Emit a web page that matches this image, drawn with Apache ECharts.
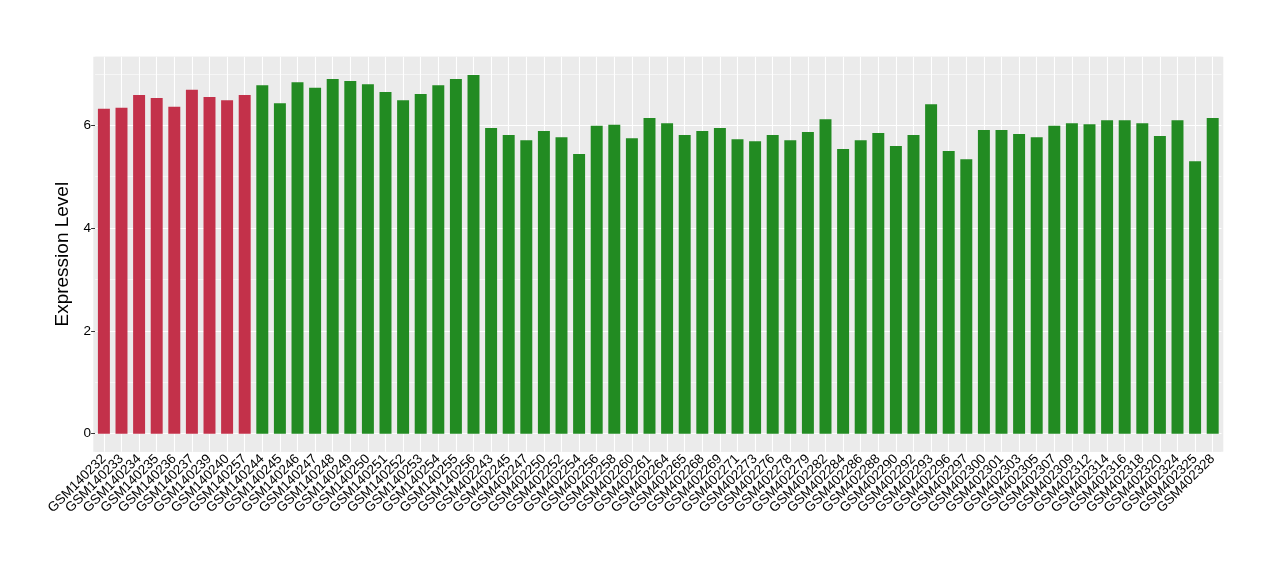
<!DOCTYPE html>
<html><head><meta charset="utf-8">
<script src="https://cdn.jsdelivr.net/npm/echarts@6/dist/echarts.min.js"></script>
<style>html,body{margin:0;padding:0;background:#fff}#c{width:1280px;height:580px}</style>
</head><body><div id="c"></div>
<script>
const samples = [
  'GSM140232','GSM140233','GSM140234','GSM140235','GSM140236','GSM140237','GSM140239','GSM140240','GSM140257',
  'GSM140244','GSM140245','GSM140246','GSM140247','GSM140248','GSM140249','GSM140250','GSM140251','GSM140252',
  'GSM140253','GSM140254','GSM140255','GSM140256',
  'GSM402243','GSM402245','GSM402247','GSM402250','GSM402252','GSM402254','GSM402256','GSM402258','GSM402260',
  'GSM402261','GSM402264','GSM402265','GSM402268','GSM402269','GSM402271','GSM402273','GSM402276','GSM402278',
  'GSM402279','GSM402282','GSM402284','GSM402286','GSM402288','GSM402290','GSM402292','GSM402293','GSM402296',
  'GSM402297','GSM402300','GSM402301','GSM402303','GSM402305','GSM402307','GSM402309','GSM402312','GSM402314',
  'GSM402316','GSM402318','GSM402320','GSM402324','GSM402325','GSM402328'
];
const values = [
  6.32,6.34,6.59,6.53,6.36,6.69,6.55,6.49,6.59,
  6.78,6.43,6.84,6.73,6.90,6.86,6.80,6.65,6.49,
  6.61,6.78,6.90,6.98,
  5.95,5.81,5.71,5.89,5.77,5.44,5.99,6.01,5.75,
  6.14,6.04,5.81,5.89,5.95,5.73,5.69,5.81,5.71,
  5.87,6.12,5.54,5.71,5.85,5.60,5.81,6.41,5.50,
  5.34,5.91,5.91,5.83,5.77,5.99,6.04,6.02,6.10,
  6.10,6.04,5.79,6.10,5.30,6.14
];
const groups = samples.map((s, i) => i < 9 ? 'A' : 'B');
const yTicks = [0, 2, 4, 6];
const yMinor = [1, 3, 5, 7];

const groupColor = { A: '#C3314A', B: '#228B22' };
const font = "'Liberation Sans', Arial, sans-serif";

const gridLines = []
  .concat(yTicks.map(v => ({ yAxis: v, lineStyle: { color: '#ffffff', width: 1.1, type: 'solid' } })))
  .concat(yMinor.map(v => ({ yAxis: v, lineStyle: { color: '#ffffff', width: 0.55, type: 'solid' } })))
  .concat(samples.map(s => ({ xAxis: s, lineStyle: { color: '#ffffff', width: 1.1, type: 'solid' } })));

const chart = echarts.init(document.getElementById('c'), null, { renderer: 'canvas' });
chart.setOption({
  animation: false,
  backgroundColor: '#ffffff',
  textStyle: { fontFamily: font },
  graphic: [{
    type: 'rect', z: -10, silent: true,
    shape: { x: 93.3, y: 56.7, width: 1130, height: 395 },
    style: { fill: '#EBEBEB' }
  }],
  grid: {
    left: 95.1, right: 58.5, top: 56.7, bottom: 128.3,
    show: true, backgroundColor: '#EBEBEB', borderWidth: 0
  },
  xAxis: {
    type: 'category',
    data: samples,
    axisLine: { show: false },
    axisTick: { show: true, alignWithLabel: true, length: 4, lineStyle: { color: '#333333', width: 1 } },
    splitLine: { show: false },
    axisLabel: { rotate: 45, interval: 0, fontSize: 13.5, color: '#000000', margin: 5, fontFamily: font }
  },
  yAxis: {
    type: 'value',
    min: -0.35, max: 7.335,
    splitLine: { show: false },
    axisLine: { show: false },
    axisTick: { show: true, customValues: yTicks, length: 4, lineStyle: { color: '#333333', width: 1 } },
    axisLabel: { customValues: yTicks, fontSize: 13.5, color: '#000000', margin: 4, fontFamily: font },
    name: 'Expression Level',
    nameLocation: 'middle',
    nameGap: 21,
    nameTextStyle: { fontSize: 19, color: '#000000', fontFamily: font }
  },
  series: [{
    type: 'bar',
    barWidth: '68%',
    z: 2,
    data: values.map((v, i) => ({ value: v, itemStyle: { color: groupColor[groups[i]] } })),
    markLine: {
      z: 1,
      silent: true,
      symbol: 'none',
      label: { show: false },
      animation: false,
      data: gridLines
    }
  }]
});
</script>
</body></html>
